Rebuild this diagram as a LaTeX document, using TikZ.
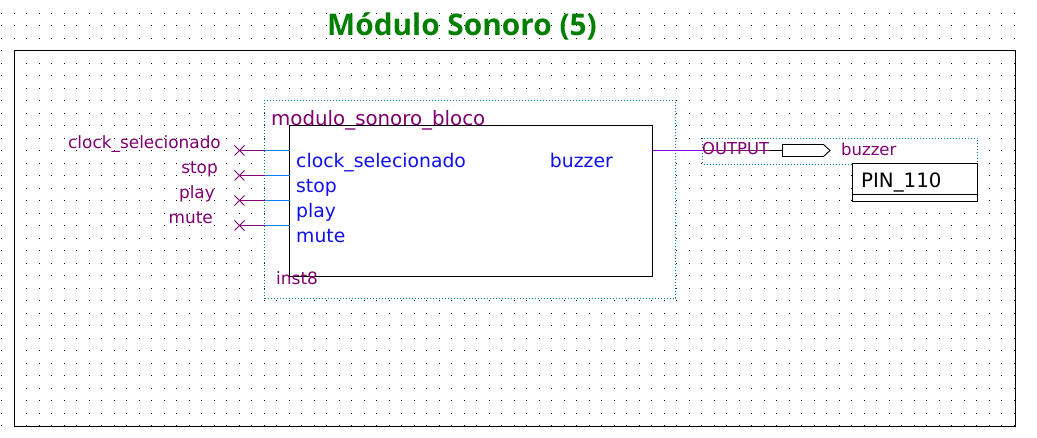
\documentclass[tikz,border=0pt]{standalone}
\usepackage{fontspec}
\setmainfont{DejaVu Sans}
\newfontfamily\titlefont{Open Sans}
\definecolor{qpurple}{HTML}{800070}
\definecolor{qblue}{HTML}{1010F0}
\definecolor{qteal}{HTML}{008080}
\definecolor{qwire}{HTML}{0080F0}
\definecolor{qviolet}{HTML}{8000F0}
\definecolor{qgreen}{HTML}{007F00}
\tikzset{
  x=1pt,y=-1pt,
  framebox/.style={draw=black,line width=1.1pt},
  dotbox/.style={draw=qteal,fill=white,line width=1pt,dash pattern=on 1pt off 2pt},
  inlabel/.style={text=qpurple,font=\fontsize{16.9}{16.9}\selectfont,anchor=base east,inner sep=0pt},
  portlabel/.style={text=qblue,font=\fontsize{18.8}{18.8}\selectfont,anchor=base west,inner sep=0pt},
  purplelabel/.style={text=qpurple,font=\fontsize{19.8}{19.8}\selectfont,anchor=base west,inner sep=0pt},
  blockbox/.style={draw=black,fill=white,line width=0.9pt,inner sep=0pt},
}
\begin{document}
\begin{tikzpicture}
\useasboundingbox (0,0) rectangle (1037,438);
\fill[white] (0,0) rectangle (1037,438);
% grid dots
\foreach \i in {0,...,81} \foreach \j in {1,...,34}
  \fill[black] ({1+12.5*\i},{0.2+12.5*\j}) rectangle +(1,1);
% title
\node[text=qgreen,font=\titlefont\bfseries\fontsize{29.8}{29.8}\selectfont,anchor=base,inner sep=0pt] (title) at (462,35.5) {Módulo Sonoro (5)};
% frame
\draw[framebox] (14.5,50.5) rectangle (1015.5,426.5);
% instance
\draw[dotbox] (264.5,100.5) rectangle (675.5,298.5);
\draw[dotbox] (702.5,138.5) rectangle (977.5,164.5);
% block
\draw[blockbox] (289.5,125.5) rectangle (652.5,276.5);
\coordinate (bw1) at (289.5,150.5);
\coordinate (bw2) at (289.5,175.5);
\coordinate (bw3) at (289.5,200.5);
\coordinate (bw4) at (289.5,225.5);
\coordinate (be) at (652.5,150.5);
\foreach \n/\y/\t in {1/150.5/clock\_selecionado,2/175.5/stop,3/200.5/play,4/225.5/mute} {
  \coordinate (m\n) at (264.5,\y);
  \coordinate (x\n) at (239.5,\y);
  \draw[qwire,line width=0.9pt] (bw\n) -- (m\n);
  \draw[qpurple,line width=0.9pt] (m\n) -- (x\n);
  \draw[qpurple,line width=0.8pt] ([shift={(-5,-5)}]x\n) -- ([shift={(5,5)}]x\n);
  \draw[qpurple,line width=0.8pt] ([shift={(-5,5)}]x\n) -- ([shift={(5,-5)}]x\n);
  \node[portlabel] (port\n) at (296,{\y+17}) {\t};
}
\node[inlabel] (in1) at (221,149) {clock\_selecionado};
\node[inlabel] (in2) at (218,174) {stop};
\node[inlabel] (in3) at (215,199) {play};
\node[inlabel] (in4) at (213,224) {mute};
\node[purplelabel] (blockname) at (271,125.5) {modulo\_sonoro\_bloco};
\node[purplelabel,font=\fontsize{17}{17}\selectfont] (inst) at (276,284.5) {inst8};
\node[portlabel,anchor=base east] (buzzerport) at (613,167.5) {buzzer};
% output
\coordinate (om) at (702.5,150.5);
\coordinate (op) at (770,150.5);
\draw[qviolet,line width=0.9pt] (be) -- (om);
\draw[qpurple,line width=0.9pt] (om) -- (op);
\node[anchor=base west,inner sep=0pt,text=qpurple,font=\fontsize{16.4}{16.4}\selectfont] (outlabel) at (702,154.5) {OUTPUT};
\draw[black,line width=0.9pt] (op) -- (782.5,150.5) coordinate (oshape);
\draw[black,line width=0.9pt] (oshape) -- (782.5,144.5) -- (823.5,144.5) -- (830,150.5) -- (823.5,156.5) -- (782.5,156.5) -- cycle;
\node[anchor=base west,inner sep=0pt,text=qpurple,font=\fontsize{16.5}{16.5}\selectfont] (buzzer) at (841,156) {buzzer};
% pin
\draw[black,fill=white,line width=0.9pt] (852.5,163.5) rectangle (977.5,201.5);
\draw[black,line width=0.9pt] (853,194.5) -- (977,194.5);
\node[anchor=base west,inner sep=0pt,text=black,font=\fontsize{19.8}{19.8}\selectfont] (pin) at (861,188) {PIN\_110};
\end{tikzpicture}
\end{document}
